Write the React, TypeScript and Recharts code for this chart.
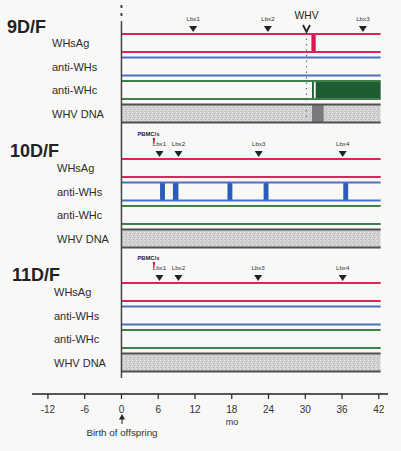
import React from "react";
import {
  ComposedChart,
  XAxis,
  YAxis,
  ReferenceLine,
  ReferenceArea,
  Scatter,
  Customized,
} from "recharts";

// panels and rows
const panels = ["9D/F", "10D/F", "11D/F"];
const rows = ["WHsAg", "anti-WHs", "anti-WHc", "WHV DNA"];
const monthTicks = [-12, -6, 0, 6, 12, 18, 24, 30, 36, 42];

// months
const followUpEnd = 42.3;
const whvMonth = 30.2;
const pbmcMonth = 5.3;
const biopsies9 = [11.7, 23.9, 39.4];
const biopsies10 = [6.2, 9.3, 22.4, 36.1];
const biopsies11 = [6.2, 9.3, 22.3, 36.1];

// positive intervals [from, to] in months
const whsAg9 = [[31.0, 31.7]];
const antiWHc9 = [[31.1, 31.4], [31.7, 42.3]];
const dna9 = [[31.1, 33.0]];
const antiWHs10 = [[6.3, 7.1], [8.4, 9.3], [17.3, 18.1], [23.2, 24.0], [36.2, 37.0]];

// layout (y in px units of the hidden axis)
const panelTop = [34, 159, 283];
const rowStep = 23.5;
const bandH = 18;
const lineColors = ["#df2459", "#4a72c2", "#3f8049", "#505050"];
const font = "'Liberation Sans', Arial, Helvetica, sans-serif";

const bandY = (p: number, r: number) => panelTop[p] + r * rowStep;

const biopsyData = [biopsies9, biopsies10, biopsies11].flatMap((list, p) =>
  list.map((m, i) => ({ x: m, y: panelTop[p] - 5, label: `Lbx${i + 1}` }))
);
const pbmcData = [1, 2].map((p) => ({ x: pbmcMonth, y: panelTop[p] - 18 }));
const whvData = [{ x: whvMonth, y: panelTop[0] - 8 }];

const Triangle = (props: any) => {
  const { cx, cy, payload } = props;
  return (
    <g>
      <path d={`M${cx - 4},${cy - 3}L${cx + 4},${cy - 3}L${cx},${cy + 3}Z`} fill="#222" />
      <text x={cx} y={cy - 8} textAnchor="middle" fontSize={6.2} fill="#333" fontFamily={font}>
        {payload.label}
      </text>
    </g>
  );
};

const Pbmc = (props: any) => {
  const { cx, cy } = props;
  return (
    <g>
      <path
        d={`M${cx - 1.2},${cy - 3}L${cx + 1.2},${cy - 3}L${cx + 0.4},${cy + 3}L${cx - 0.4},${cy + 3}Z`}
        fill="#d0173a"
      />
      <text x={cx - 5.5} y={cy - 5} textAnchor="middle" fontSize={5.8} fontWeight="bold" fill="#222" fontFamily={font}>
        PBMC/s
      </text>
    </g>
  );
};

const Whv = (props: any) => {
  const { cx, cy } = props;
  return (
    <g>
      <text x={cx} y={cy - 7.5} textAnchor="middle" fontSize={10.3} fill="#222" fontFamily={font}>
        WHV
      </text>
      <path d={`M${cx - 3.5},${cy - 1}L${cx},${cy + 6}L${cx + 3.5},${cy - 1}`} stroke="#222" strokeWidth={1.8} fill="none" />
    </g>
  );
};

const titleX = [7, 10, 12];
const labelX = [52, 57, 54];

const Labels = () => (
  <g fontFamily={font}>
    <defs>
      <pattern id="stipple" width="4" height="4" patternUnits="userSpaceOnUse">
        <rect width="4" height="4" fill="#d0d0d0" />
        <rect x="0" y="0" width="1" height="1" fill="#e8e8e8" />
        <rect x="2" y="1" width="1" height="1" fill="#b9b9b9" />
        <rect x="1" y="3" width="1" height="1" fill="#bfbfbf" />
        <rect x="3" y="2" width="1" height="1" fill="#e2e2e2" />
      </pattern>
    </defs>
    {panels.map((name, p) => (
      <g key={name}>
        <text x={titleX[p]} y={panelTop[p] - 8 + (p === 0 ? 0 : -1) + 6.5} fontSize={18} fontWeight="bold" fill="#222">
          {name}
        </text>
        {rows.map((r, i) => (
          <text key={r} x={labelX[p]} y={bandY(p, i) + bandH / 2 + 4} fontSize={11} fill="#2c2c2c">
            {r}
          </text>
        ))}
      </g>
    ))}
    <text x={232} y={425} textAnchor="middle" fontSize={9} fill="#333">
      mo
    </text>
    <path d="M122,414L125,419.5L119,419.5Z" fill="#222" />
    <line x1={122} y1={419} x2={122} y2={424} stroke="#222" strokeWidth={1} />
    <text x={122} y={436} textAnchor="middle" fontSize={9.8} fill="#333">
      Birth of offspring
    </text>
  </g>
);

export default function App() {
  return (
    <div style={{ position: "absolute", left: 0, top: 0, width: 401, height: 451, background: "#f8f8f6" }}>
      <ComposedChart width={401} height={451} margin={{ top: 0, right: 13, bottom: 0, left: 32 }}>
        <XAxis
          type="number"
          dataKey="x"
          domain={[-14.6, 43.5]}
          ticks={monthTicks}
          interval={0}
          height={57}
          tickSize={5}
          tickMargin={7}
          axisLine={{ stroke: "#222", strokeWidth: 1.5 }}
          tickLine={{ stroke: "#222", strokeWidth: 1.2 }}
          tick={{ fontSize: 10, fill: "#333", fontFamily: font }}
        />
        <YAxis type="number" dataKey="y" domain={[0, 394]} reversed hide />
        <Customized component={Labels} />

        {/* grey DNA band fills */}
        {panels.map((name, p) => (
          <ReferenceArea
            key={`dna-${name}`}
            x1={0}
            x2={followUpEnd}
            y1={bandY(p, 3)}
            y2={bandY(p, 3) + bandH}
            fill="url(#stipple)"
            fillOpacity={1}
          />
        ))}

        {/* positive results */}
        {whsAg9.map(([a, b], i) => (
          <ReferenceArea key={`s${i}`} x1={a} x2={b} y1={bandY(0, 0)} y2={bandY(0, 0) + bandH} fill="#e0154f" fillOpacity={1} />
        ))}
        {antiWHc9.map(([a, b], i) => (
          <ReferenceArea key={`c${i}`} x1={a} x2={b} y1={bandY(0, 2)} y2={bandY(0, 2) + bandH} fill="#1f5b33" fillOpacity={1} />
        ))}
        {dna9.map(([a, b], i) => (
          <ReferenceArea key={`d${i}`} x1={a} x2={b} y1={bandY(0, 3)} y2={bandY(0, 3) + bandH} fill="#7a7a7e" fillOpacity={1} />
        ))}
        {antiWHs10.map(([a, b], i) => (
          <ReferenceArea key={`w${i}`} x1={a} x2={b} y1={bandY(1, 1)} y2={bandY(1, 1) + bandH} fill="#2a5cb8" fillOpacity={1} />
        ))}

        {/* row band lines */}
        {panels.flatMap((name, p) =>
          rows.flatMap((r, i) =>
            [0, bandH].map((off) => (
              <ReferenceLine
                key={`${name}-${r}-${off}`}
                segment={[
                  { x: 0, y: bandY(p, i) + off },
                  { x: followUpEnd, y: bandY(p, i) + off },
                ]}
                stroke={lineColors[i]}
                strokeWidth={2}
              />
            ))
          )
        )}

        {/* time zero axis and WHV challenge */}
        <ReferenceLine segment={[{ x: 0, y: 21 }, { x: 0, y: 378 }]} stroke="#444" strokeWidth={1.5} />
        <ReferenceLine segment={[{ x: 0, y: 5 }, { x: 0, y: 18 }]} stroke="#444" strokeWidth={2} strokeDasharray="3 5" />
        <ReferenceLine
          segment={[{ x: whvMonth, y: 33 }, { x: whvMonth, y: 123 }]}
          stroke="#777"
          strokeWidth={1.2}
          strokeDasharray="1.5 4"
        />

        <Scatter data={biopsyData} shape={Triangle} isAnimationActive={false} />
        <Scatter data={pbmcData} shape={Pbmc} isAnimationActive={false} />
        <Scatter data={whvData} shape={Whv} isAnimationActive={false} />
      </ComposedChart>
    </div>
  );
}
